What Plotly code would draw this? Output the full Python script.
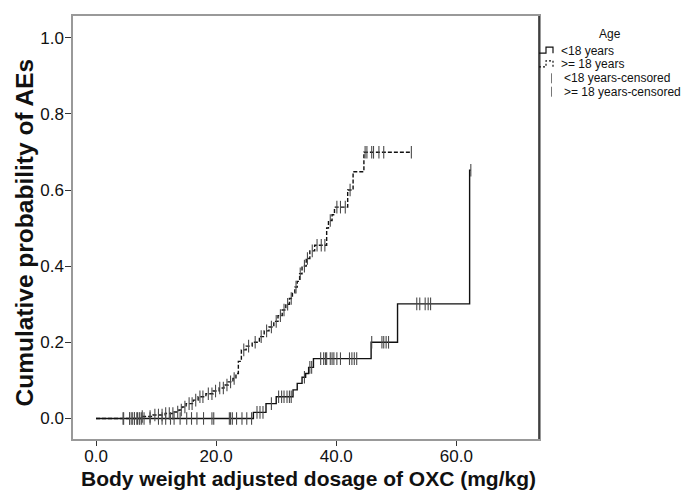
import numpy as np
import plotly.graph_objects as go

# ---- data ----
# <18 years: event times (mg/kg) and cumulative probability after each step
young_times = [0.0, 26.2, 28.3, 30.0, 32.8, 33.5, 34.3, 34.9, 35.4, 36.2, 45.8, 50.2, 62.2]
young_cum = [0.0, 0.016, 0.039, 0.057, 0.075, 0.092, 0.108, 0.118, 0.134, 0.157, 0.200, 0.301, 0.652]
young_end = 62.4
young_censored = [4.6, 5.6, 6.0, 6.4, 6.8, 7.2, 7.6, 8.0, 9.0, 10.4, 11.0, 11.6, 12.4, 13.0,
                  14.0, 15.1, 15.9, 16.8, 17.9, 19.3, 19.6, 22.2, 22.4, 22.7, 23.4, 24.3, 25.1,
                  25.9, 26.8, 27.3, 27.8, 29.2, 30.4, 30.9, 31.3, 31.8, 32.2, 32.5, 34.7, 35.6,
                  35.9, 37.4, 37.9, 38.2, 38.4, 39.0, 39.3, 39.6, 40.1, 40.7, 42.2, 42.6, 43.0,
                  43.4, 45.9, 47.6, 47.9, 48.3, 48.7, 53.4, 53.9, 54.8, 55.3, 55.7, 62.4]

# >= 18 years
adult_times = [0.0, 7.5, 9.5, 11.5, 13.0, 13.8, 14.3, 15.0, 16.2, 17.0, 18.3, 19.5, 20.5, 21.3,
               22.0, 22.8, 23.3, 23.7, 24.2, 25.0, 26.0, 27.2, 28.0, 28.8, 29.6, 30.3, 31.0,
               31.6, 32.2, 32.7, 33.1, 33.5, 33.9, 34.3, 35.0, 35.6, 36.4, 38.4, 38.7, 39.3,
               39.7, 41.9, 42.8, 44.6]
adult_cum = [0.0, 0.005, 0.009, 0.013, 0.017, 0.022, 0.030, 0.039, 0.048, 0.057, 0.065, 0.072,
             0.080, 0.088, 0.096, 0.105, 0.118, 0.150, 0.180, 0.190, 0.200, 0.215, 0.230, 0.240,
             0.255, 0.270, 0.285, 0.300, 0.315, 0.330, 0.345, 0.360, 0.380, 0.400, 0.420, 0.440,
             0.455, 0.500, 0.520, 0.535, 0.555, 0.600, 0.648, 0.699]
adult_end = 52.5
adult_censored = [4.5, 5.6, 6.0, 6.4, 6.9, 7.3, 7.7, 9.0, 9.8, 10.4, 11.0, 11.6, 12.2, 12.8,
                  13.6, 14.2, 14.8, 15.5, 16.0, 16.6, 17.3, 17.8, 18.7, 19.3, 19.9, 20.6, 21.2,
                  21.8, 22.4, 23.0, 24.6, 25.4, 26.5, 27.5, 28.4, 29.2, 30.0, 30.7, 31.3, 31.9,
                  32.5, 33.3, 34.0, 34.7, 35.2, 36.0, 36.8, 37.5, 38.1, 39.0, 40.1, 40.7, 41.5,
                  42.3, 44.8, 45.1, 45.9, 46.2, 47.1, 47.9, 52.5]

x_ticks = [0, 20, 40, 60]
x_tick_labels = ["0.0", "20.0", "40.0", "60.0"]
y_ticks = [0, 0.2, 0.4, 0.6, 0.8, 1.0]
y_tick_labels = ["0.0", "0.2", "0.4", "0.6", "0.8", "1.0"]

x_title = "Body weight adjusted dosage of OXC (mg/kg)"
y_title = "Cumulative probability of AEs"
legend_title = "Age"
legend_labels = ["<18 years", ">= 18 years", "<18 years-censored", ">= 18 years-censored"]


def step_value(times, cum, t):
    idx = np.searchsorted(np.asarray(times), t, side="right") - 1
    return float(np.asarray(cum)[max(idx, 0)])


W, H = 681, 493
ML, MR, MT, MB = 73, 142, 16, 54
PW, PH = W - ML - MR, H - MT - MB


def px(x):  # pixel -> paper x
    return (x - ML) / PW


def py(y):  # pixel -> paper y
    return (H - MB - y) / PH


FONT = "Liberation Sans, Arial, sans-serif"

fig = go.Figure()

fig.add_trace(go.Scatter(
    x=young_times + [young_end], y=young_cum + [young_cum[-1]],
    mode="lines", line=dict(shape="hv", color="#111111", width=1.4),
    name=legend_labels[0]))
fig.add_trace(go.Scatter(
    x=adult_times + [adult_end], y=adult_cum + [adult_cum[-1]],
    mode="lines", line=dict(shape="hv", color="#111111", width=1.4, dash="4px,2px"),
    name=legend_labels[1]))
fig.add_trace(go.Scatter(
    x=young_censored, y=[step_value(young_times, young_cum, t) for t in young_censored],
    mode="markers", name=legend_labels[2],
    marker=dict(symbol="line-ns", size=9, line=dict(width=1.1, color="#4a4a4a"))))
fig.add_trace(go.Scatter(
    x=adult_censored, y=[step_value(adult_times, adult_cum, t) for t in adult_censored],
    mode="markers", name=legend_labels[3],
    marker=dict(symbol="line-ns", size=9, line=dict(width=1.1, color="#4a4a4a"))))

axis_font = dict(family=FONT, size=17, color="#111")

# ---- custom legend (icons + text) and titles ----
shapes = [dict(type="line", xref="paper", yref="paper", x0=1, x1=1, y0=0, y1=1,
               line=dict(color="#222", width=1.5))]
annotations = [
    dict(text="<b>" + x_title + "</b>", xref="paper", yref="paper", x=px(308.5), y=py(479),
         xanchor="center", yanchor="middle", showarrow=False,
         font=dict(family=FONT, size=21, color="#111")),
    dict(text="<b>" + y_title + "</b>", xref="paper", yref="paper", x=px(24), y=py(232.5),
         xanchor="center", yanchor="middle", showarrow=False, textangle=-90,
         font=dict(family=FONT, size=24.5, color="#111")),
    dict(text=legend_title, xref="paper", yref="paper", x=px(610), y=py(34),
         xanchor="center", yanchor="middle", showarrow=False,
         font=dict(family=FONT, size=12, color="#111")),
]
row_y = [50.7, 64.3, 78.3, 91.7]
text_x = [559, 559, 561.5, 561.5]
for i, lab in enumerate(legend_labels):
    annotations.append(dict(text=lab, xref="paper", yref="paper", x=px(text_x[i]), y=py(row_y[i]),
                            xanchor="left", yanchor="middle", showarrow=False,
                            font=dict(family=FONT, size=12, color="#111")))
# step icons for the two curves
for i, dash in [(0, "solid"), (1, "2px,2px")]:
    yl, yh = row_y[i] + 2.5, row_y[i] - 3.5
    path = "M {} {} L {} {} L {} {} L {} {} L {} {}".format(
        px(539), py(yl), px(546), py(yl), px(546), py(yh), px(553), py(yh), px(553), py(yl))
    shapes.append(dict(type="path", xref="paper", yref="paper", path=path,
                       line=dict(color="#111", width=1.2, dash=dash)))
# censor icons
for i in (2, 3):
    shapes.append(dict(type="line", xref="paper", yref="paper",
                       x0=px(551.5), x1=px(551.5), y0=py(row_y[i] - 5), y1=py(row_y[i] + 5),
                       line=dict(color="#777", width=1)))

fig.update_layout(
    width=W, height=H,
    margin=dict(l=ML, r=MR, t=MT, b=MB, autoexpand=False),
    paper_bgcolor="white", plot_bgcolor="white",
    font=dict(family=FONT, color="#111"),
    showlegend=False,
    xaxis=dict(range=[-3.83, 73.75], tickvals=x_ticks, ticktext=x_tick_labels,
               ticks="outside", ticklen=5, tickcolor="#333", tickfont=axis_font,
               ticklabelstandoff=-4,
               showgrid=False, zeroline=False, showline=True, linecolor="#999999",
               linewidth=1.5, mirror=True, automargin=False),
    yaxis=dict(range=[-0.054, 1.057], tickvals=y_ticks, ticktext=y_tick_labels,
               ticks="outside", ticklen=6, tickcolor="#333", tickfont=axis_font,
               ticklabelstandoff=-2,
               showgrid=False, zeroline=False, showline=True, linecolor="#999999",
               linewidth=1.5, mirror=True, automargin=False),
    shapes=shapes,
    annotations=annotations,
)

fig.write_html("out.html", post_script="document.body.style.margin='0px';",
               config={"displayModeBar": False})
